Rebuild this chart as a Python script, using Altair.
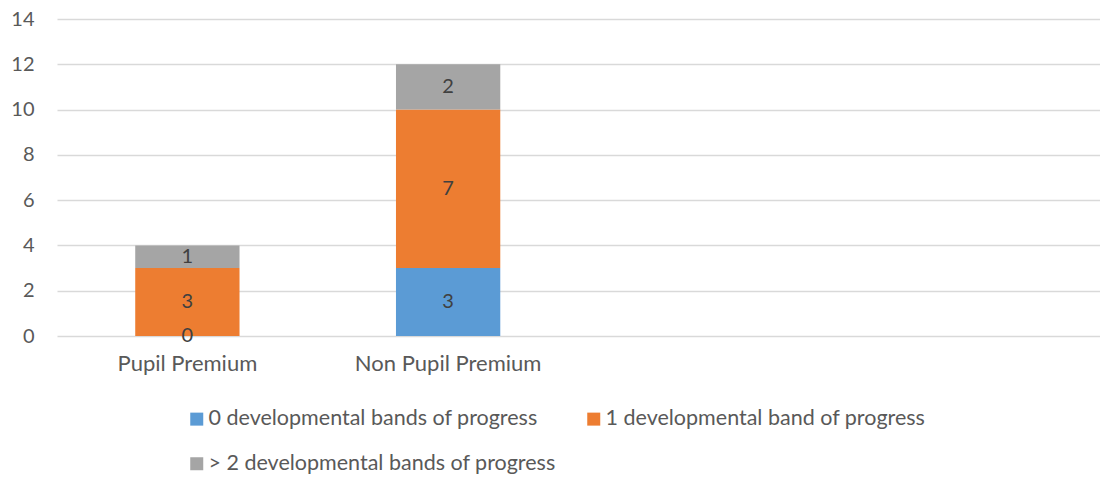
import altair as alt
import pandas as pd

categories = ["Pupil Premium", "Non Pupil Premium"]
blank_slots = [" ", "  "]
series = [
    "0 developmental bands of progress",
    "1 developmental band of progress",
    "> 2 developmental bands of progress",
]
values_0_bands = [0, 3]
values_1_band = [3, 7]
values_gt2_bands = [1, 2]
colors = ["#5B9BD5", "#ED7D31", "#A5A5A5"]
y_ticks = [0, 2, 4, 6, 8, 10, 12, 14]

rows = []
for ci, cat in enumerate(categories):
    for si, (s, vals) in enumerate(zip(series, [values_0_bands, values_1_band, values_gt2_bands])):
        rows.append({"category": cat, "series": s, "value": vals[ci], "order": si})
df = pd.DataFrame(rows)

FONT = "Lato"
TXT = "#595959"

x_axis = alt.Axis(
    title=None, labelAngle=0, domain=False, ticks=False, grid=False, labelLimit=400,
    labelFont=FONT, labelFontSize=22, labelColor=TXT, labelPadding=17,
)
x_scale = alt.Scale(domain=categories + blank_slots, paddingInner=0.6, paddingOuter=0.3)
y_axis = alt.Axis(
    title=None, values=y_ticks, grid=True, gridColor="#d9d9d9", gridWidth=1.3,
    domain=False, ticks=False, labelFont=FONT, labelFontSize=20, labelColor=TXT,
    labelPadding=23,
)
y_scale = alt.Scale(domain=[0, 14], nice=False)

# legend fills column-major: order entries so the rows read as in the reference
legend_order = [series[0], series[2], series[1]]
legend_colors = [colors[0], colors[2], colors[1]]

base = alt.Chart(df).transform_stack(
    stack="value", as_=["y0", "y1"], groupby=["category"], sort=[alt.SortField("order")]
).transform_calculate(mid="(datum.y0 + datum.y1) / 2")

bars = base.mark_bar().encode(
    x=alt.X("category:N", scale=x_scale, axis=x_axis),
    y=alt.Y("y0:Q", scale=y_scale, axis=y_axis),
    y2="y1:Q",
    color=alt.Color(
        "series:N",
        scale=alt.Scale(domain=legend_order, range=legend_colors),
        legend=alt.Legend(
            title=None, orient="none", legendX=129, legendY=389, columns=2,
            symbolType="square", symbolSize=169, symbolStrokeWidth=0,
            labelFont=FONT, labelFontSize=21.5, labelColor=TXT, labelLimit=600,
            columnPadding=27, rowPadding=22, labelOffset=1,
        ),
    ),
    order=alt.Order("order:Q"),
)

labels = base.mark_text(font=FONT, fontSize=20, color="#404040", baseline="middle").encode(
    x=alt.X("category:N", scale=x_scale, axis=x_axis),
    y=alt.Y("mid:Q", scale=y_scale, axis=y_axis),
    text=alt.Text("value:Q"),
)

chart = (
    alt.layer(bars, labels)
    .properties(
        width=1043, height=317,
        autosize=alt.AutoSizeParams(type="none"),
        padding={"left": 49, "top": 11, "right": 0, "bottom": 138},
        background="white",
    )
    .configure_view(strokeWidth=0)
)

chart.save("out.html", embed_options={"renderer": "svg", "actions": False})
